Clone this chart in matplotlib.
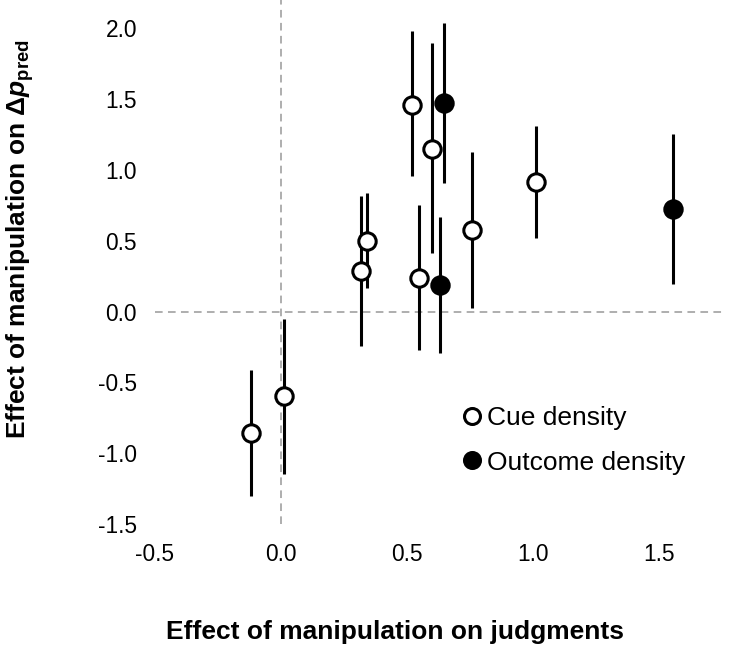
import matplotlib
matplotlib.use("Agg")
import matplotlib.pyplot as plt
from matplotlib.lines import Line2D

plt.rcParams['font.family'] = ['Liberation Sans', 'DejaVu Sans']
plt.rcParams['mathtext.fontset'] = 'custom'
plt.rcParams['mathtext.rm'] = 'Liberation Sans:bold'
plt.rcParams['mathtext.it'] = 'Liberation Sans:bold:italic'
plt.rcParams['mathtext.bf'] = 'Liberation Sans:bold'

# cue density studies (open circles): effect on judgments, effect on dp_pred, CI
cue_x = [0.52, 0.60, 0.755, 1.01, 0.34, 0.315, 0.545, -0.12, 0.01]
cue_y = [1.46, 1.15, 0.575, 0.915, 0.50, 0.285, 0.24, -0.855, -0.595]
cue_lo = [0.96, 0.415, 0.025, 0.52, 0.165, -0.245, -0.27, -1.30, -1.145]
cue_hi = [1.98, 1.895, 1.125, 1.31, 0.84, 0.815, 0.75, -0.415, -0.05]

# outcome density studies (filled circles)
out_x = [0.645, 1.555, 0.63]
out_y = [1.47, 0.725, 0.19]
out_lo = [0.91, 0.195, -0.29]
out_hi = [2.035, 1.255, 0.665]

xticks = [-0.5, 0.0, 0.5, 1.0, 1.5]
yticks = [-1.5, -1.0, -0.5, 0.0, 0.5, 1.0, 1.5, 2.0]

fig = plt.figure(figsize=(7.34, 6.52), dpi=100)
ax = fig.add_axes([155/734, 1-524/652, 570/734, 524/652])

ax.axhline(0, color='#999999', lw=1.1, ls=(0, (5, 3.5)), zorder=1)
ax.axvline(0, color='#999999', lw=1.1, ls=(0, (5, 3.5)), zorder=1)

allx = cue_x + out_x
ally = cue_y + out_y
alllo = cue_lo + out_lo
allhi = cue_hi + out_hi
yerr = [[y - l for y, l in zip(ally, alllo)], [h - y for y, h in zip(ally, allhi)]]
ax.errorbar(allx, ally, yerr=yerr, fmt='none', ecolor='black', elinewidth=2.2, capsize=0, zorder=2)

ax.plot(cue_x, cue_y, 'o', ms=12.5, mfc='white', mec='black', mew=2.2, zorder=3)
ax.plot(out_x, out_y, 'o', ms=12.5, mfc='black', mec='black', mew=2.2, zorder=3)

ax.set_xlim(-0.5, 1.76)
ax.set_ylim(-1.5, 2.2)
ax.set_xticks(xticks)
ax.set_yticks(yticks)
ax.set_xticklabels(['%.1f' % t for t in xticks])
ax.set_yticklabels(['%.1f' % t for t in yticks])
ax.tick_params(length=0, labelsize=16.4)
ax.tick_params(axis='y', pad=13)
ax.tick_params(axis='x', pad=14)
for s in ax.spines.values():
    s.set_visible(False)

handles = [Line2D([], [], marker='o', ls='none', ms=11.5, mfc='white', mec='black', mew=2.2),
           Line2D([], [], marker='o', ls='none', ms=11.5, mfc='black', mec='black', mew=2.2)]
ax.legend(handles, ['Cue density', 'Outcome density'], loc='upper left',
          bbox_to_anchor=(461/734, 1-406/652), bbox_transform=fig.transFigure,
          frameon=False, fontsize=19, borderpad=0, borderaxespad=0,
          handlelength=0.8, handletextpad=0.2, labelspacing=0.78)

fig.text(0.538, 1-632/652, 'Effect of manipulation on judgments',
         ha='center', va='center', fontsize=19, fontweight='bold')
fig.text(20/734, 1-239/652, r'Effect of manipulation on Δ$\mathit{p}_{\mathrm{pred}}$',
         ha='center', va='center', rotation=90, fontsize=19, fontweight='bold')

fig.savefig('out.png', dpi=100)
